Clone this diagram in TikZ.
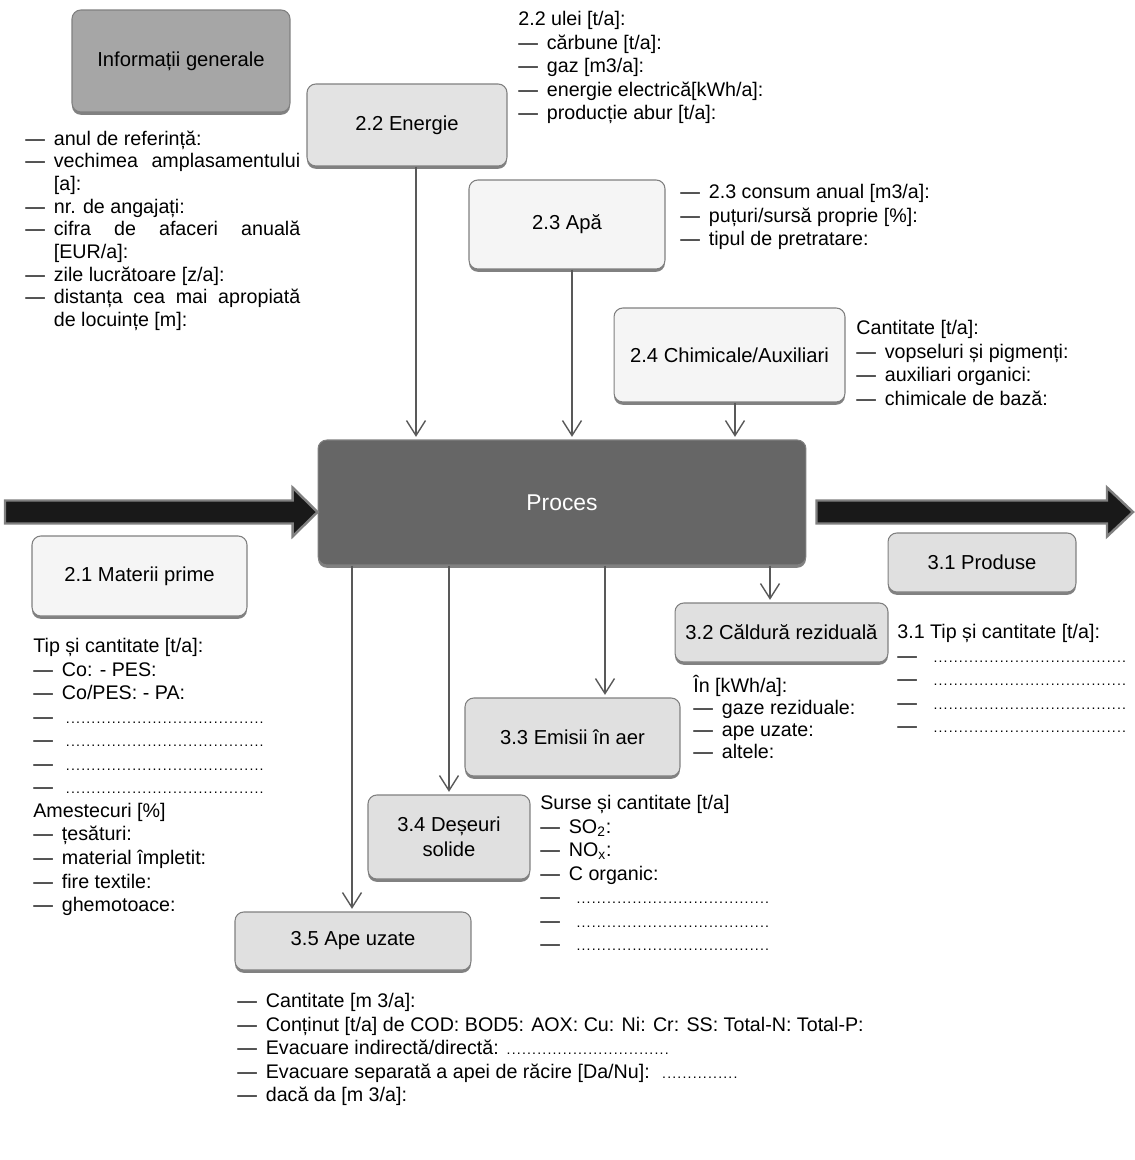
\documentclass[tikz,border=0pt]{standalone}
\usepackage{fontspec}
\setmainfont{Liberation Sans}
\usetikzlibrary{shadows, calc, arrows.meta}

\hyphenpenalty=10000
\tolerance=10000
\newcommand\dl{\makebox[1.45em][l]{—}}
\newcommand\dotrow[1]{\makebox[#1]{\leaders\hbox to 2.9pt{\hss\footnotesize.\hss}\hfill}}
\newcommand\gitem[1]{\par\noindent\hangindent=1.45em\hangafter=1\dl#1}

\begin{document}
\begin{tikzpicture}[x=0.02cm, y=-0.02cm,
  every node/.style={inner sep=0pt, font=\fontsize{11.2}{13.4}\selectfont},
  panel/.style={draw=black!50, line width=0.6pt, rounded corners=5pt, align=center,
    font=\fontsize{11.5}{14}\selectfont,
    drop shadow={shadow xshift=0pt, shadow yshift=-1.6pt, fill=black!55, opacity=0.9}},
  notes/.style={anchor=north west, align=left},
  flow/.style={draw=black!65, line width=0.8pt, -{Straight Barb[length=3mm, width=3.8mm]}, shorten >=1.5pt},
  bigarrow/.style={fill=black!90, draw=black!50, line width=1.4pt}]
  \useasboundingbox (0,0) rectangle (1135,1160);

  % boxes
  \node[panel, fill=black!35, minimum width=4.36cm, minimum height=2.04cm] (info) at (181,61) {Informații generale};
  \node[panel, fill=black!11, minimum width=4cm, minimum height=1.64cm] (energie) at (407,125) {2.2 Energie};
  \node[panel, fill=black!4, minimum width=3.92cm, minimum height=1.78cm] (apa) at (567,224.5) {2.3 Apă};
  \node[panel, fill=black!4, minimum width=4.62cm, minimum height=1.88cm] (chim) at (729.5,355) {2.4 Chimicale/Auxiliari};
  \node[panel, fill=black!60, text=white, minimum width=9.76cm, minimum height=2.5cm,
    font=\fontsize{13}{15}\selectfont] (proces) at (562,502.5) {Proces};
  \node[panel, fill=black!4, minimum width=4.3cm, minimum height=1.6cm] (materii) at (139.5,576) {2.1 Materii prime};
  \node[panel, fill=black!12, minimum width=3.76cm, minimum height=1.18cm] (produse) at (982,562.5) {3.1 Produse};
  \node[panel, fill=black!12, minimum width=4.26cm, minimum height=1.18cm] (caldura) at (781.5,632.5) {3.2 Căldură reziduală};
  \node[panel, fill=black!12, minimum width=4.3cm, minimum height=1.56cm] (emisii) at (572.5,737) {3.3 Emisii în aer};
  \node[panel, fill=black!12, minimum width=3.24cm, minimum height=1.68cm] (deseuri) at (449,837) {3.4 Deșeuri\\solide};
  \node[panel, fill=black!12, minimum width=4.72cm, minimum height=1.16cm] (apeuzate) at (353,941) {3.5 Ape uzate};

  % texts
  \node[notes, text width=5.5cm, align=justify, font=\fontsize{11.2}{12.9}\selectfont] (infonotes) at (25,122)
    {\gitem{anul de referință:}\gitem{vechimea amplasamentului [a]:}\gitem{nr. de angajați:}%
     \gitem{cifra de afaceri anuală [EUR/a]:}\gitem{zile lucrătoare [z/a]:}%
     \gitem{distanța cea mai apropiată de locuințe [m]:}\par};
  \node[notes] (energienotes) at (518,11) {2.2 ulei [t/a]:\\ \dl cărbune [t/a]:\\ \dl gaz [m3/a]:\\
    \dl energie electrică[kWh/a]:\\ \dl producție abur [t/a]:};
  \node[notes] (apanotes) at (680,184) {\dl 2.3 consum anual [m3/a]:\\ \dl puțuri/sursă proprie [\%]:\\
    \dl tipul de pretratare:};
  \node[notes] (chimnotes) at (856,320) {Cantitate [t/a]:\\ \dl vopseluri și pigmenți:\\
    \dl auxiliari organici:\\ \dl chimicale de bază:};
  \node[notes] (materiinotes) at (33,638) {Tip și cantitate [t/a]:\\ \dl Co: - PES:\\ \dl Co/PES: - PA:\\
    \dl\hspace{2pt}\dotrow{3.98cm}\\ \dl\hspace{2pt}\dotrow{3.98cm}\\ \dl\hspace{2pt}\dotrow{3.98cm}\\ \dl\hspace{2pt}\dotrow{3.98cm}\\
    Amestecuri [\%]\\ \dl țesături:\\ \dl material împletit:\\ \dl fire textile:\\ \dl ghemotoace:};
  \node[notes] (produsenotes) at (897,624) {3.1 Tip și cantitate [t/a]:\\
    \dl\hspace{4pt}\dotrow{3.9cm}\\ \dl\hspace{4pt}\dotrow{3.9cm}\\ \dl\hspace{4pt}\dotrow{3.9cm}\\ \dl\hspace{4pt}\dotrow{3.9cm}};
  \node[notes, font=\fontsize{11.2}{12.5}\selectfont] (calduranotes) at (693,675) {În [kWh/a]:\\
    \dl gaze reziduale:\\ \dl ape uzate:\\ \dl altele:};
  \node[notes] (emisiinotes) at (540,795) {Surse și cantitate [t/a]\\ \dl SO\textsubscript{2}:\\
    \dl NO\textsubscript{x}:\\ \dl C organic:\\
    \dl\hspace{4pt}\dotrow{3.92cm}\\ \dl\hspace{4pt}\dotrow{3.92cm}\\ \dl\hspace{4pt}\dotrow{3.92cm}};
  \node[notes] (apenotes) at (237,993) {\dl Cantitate [m 3/a]:\\
    \dl Conținut [t/a] de COD: BOD5: AOX: Cu: Ni: Cr: SS: Total-N: Total-P:\\
    \dl Evacuare indirectă/directă: \dotrow{3.36cm}\\
    \dl Evacuare separată a apei de răcire [Da/Nu]:\hspace{0.6em}\dotrow{1.54cm}\\
    \dl dacă da [m 3/a]:};

  % inputs and outputs
  \foreach \b/\dx in {energie/0.18, apa/0.1, chim/0.11}{
    \coordinate (t) at ([xshift=\dx cm]\b.south);
    \draw[flow] (t) -- (t |- proces.north);
  }
  \foreach \b/\dx in {caldura/-0.23, emisii/0.65, deseuri/0, apeuzate/-0.02}{
    \coordinate (t) at ([xshift=\dx cm]\b.north);
    \draw[flow] (t |- proces.south) -- (t);
  }

  % main flow
  \coordinate (in) at (5,512);
  \coordinate (out) at (1133,512);
  \path (in -| proces.west) coordinate (intip);
  \path (out -| proces.east) ++(10,0) coordinate (outtail);
  \filldraw[bigarrow] ($(in)+(0,-11.5)$) -- ($(intip)+(-25,-11.5)$) -- ($(intip)+(-25,-24.5)$) -- (intip)
    -- ($(intip)+(-25,24.5)$) -- ($(intip)+(-25,11.5)$) -- ($(in)+(0,11.5)$) -- cycle;
  \filldraw[bigarrow] ($(outtail)+(0,-11.5)$) -- ($(out)+(-26,-11.5)$) -- ($(out)+(-26,-24.5)$) -- (out)
    -- ($(out)+(-26,24.5)$) -- ($(out)+(-26,11.5)$) -- ($(outtail)+(0,11.5)$) -- cycle;
\end{tikzpicture}
\end{document}
